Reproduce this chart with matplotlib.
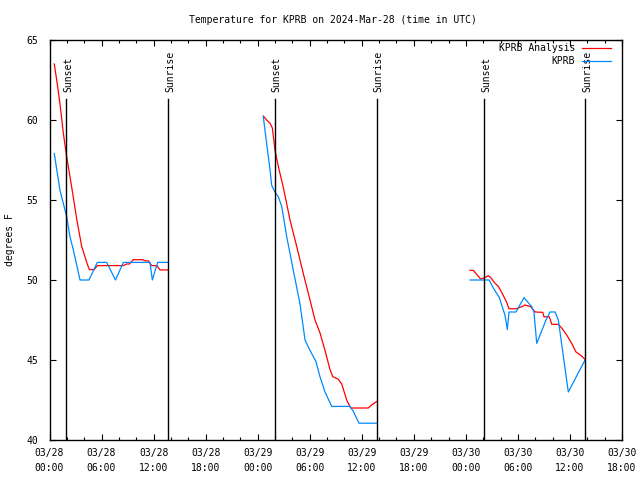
import matplotlib
matplotlib.use("Agg")
import matplotlib.pyplot as plt
import numpy as np
from matplotlib.ticker import MultipleLocator, FixedLocator

plt.rcParams['font.family'] = ['DejaVu Sans Mono']
FS = 7

# hours since 2024-03-28 00:00 UTC
analysis_t = [
    [0.55, 0.83, 1.21, 1.59, 1.98, 2.56, 3.14, 3.71, 4.29, 4.59, 5.16, 5.51, 8.51, 8.88, 9.20,
     9.66, 10.74, 11.01, 11.39, 11.78, 12.36, 12.74, 13.70],
    [24.65, 25.04, 25.42, 25.69, 26.00, 26.38, 26.95, 27.73, 28.50, 29.26, 30.03, 30.61, 31.18,
     31.76, 32.34, 32.65, 33.29, 33.69, 34.26, 34.72, 36.75, 37.15, 37.72],
    [48.48, 48.86, 49.25, 49.71, 50.21, 50.59, 50.86, 51.36, 51.74, 52.13, 52.71, 52.97, 53.78,
     54.44, 54.82, 55.48, 55.97, 56.86, 57.01, 57.62, 57.90, 58.66, 59.05, 59.63, 60.20, 60.70,
     61.24, 61.74],
]
analysis_v = [
    [63.5, 62.5, 61.0, 59.2, 57.7, 55.8, 53.8, 52.1, 51.1, 50.65, 50.65, 50.9, 50.9, 51.0, 51.0,
     51.27, 51.27, 51.2, 51.2, 50.9, 50.9, 50.63, 50.63],
    [60.25, 60.0, 59.8, 59.5, 58.1, 57.1, 55.8, 53.75, 52.1, 50.4, 48.75, 47.5, 46.7, 45.6, 44.4,
     43.96, 43.8, 43.5, 42.5, 42.0, 42.0, 42.2, 42.4],
    [50.6, 50.6, 50.35, 50.06, 50.15, 50.27, 50.15, 49.8, 49.6, 49.23, 48.6, 48.2, 48.2, 48.33,
     48.44, 48.33, 48.0, 47.98, 47.7, 47.7, 47.23, 47.23, 47.0, 46.56, 46.04, 45.5, 45.3, 45.04],
]
obs_t = [
    [0.55, 1.21, 1.98, 2.36, 2.74, 3.52, 4.55, 5.51, 6.59, 7.61, 8.51, 11.59, 11.85, 12.47, 13.70],
    [24.65, 25.04, 25.42, 25.62, 26.00, 26.38, 26.77, 27.35, 28.11, 28.88, 29.46, 30.03, 30.72,
     31.18, 31.76, 32.53, 34.64, 35.02, 35.68, 37.72],
    [48.48, 50.70, 51.16, 51.86, 52.51, 52.78, 52.97, 53.78, 54.70, 55.59, 55.85, 56.17, 57.24,
     57.70, 58.28, 58.66, 59.81, 61.74],
]
obs_v = [
    [57.9, 55.6, 53.96, 52.7, 51.9, 50.0, 50.0, 51.1, 51.1, 50.0, 51.1, 51.1, 50.0, 51.1, 51.1],
    [60.2, 58.5, 56.9, 55.9, 55.5, 55.2, 54.6, 52.7, 50.6, 48.5, 46.25, 45.6, 44.9, 43.96, 43.0,
     42.1, 42.1, 41.8, 41.05, 41.05],
    [50.0, 50.0, 49.5, 48.9, 47.8, 46.9, 48.0, 48.0, 48.9, 48.33, 48.0, 46.04, 47.5, 48.0, 48.0,
     47.5, 43.0, 45.0],
]

sunset_t = [1.94, 26.00, 50.13]
sunrise_t = [13.70, 37.72, 61.77]

xtick_hours = [0, 6, 12, 18, 24, 30, 36, 42, 48, 54, 60, 66]
xtick_labels = ["03/28\n00:00", "03/28\n06:00", "03/28\n12:00", "03/28\n18:00",
                "03/29\n00:00", "03/29\n06:00", "03/29\n12:00", "03/29\n18:00",
                "03/30\n00:00", "03/30\n06:00", "03/30\n12:00", "03/30\n18:00"]
yticks = [40, 45, 50, 55, 60, 65]

RED = '#ff0000'
BLUE = '#0088ff'

def join(parts):
    out = []
    for i, p in enumerate(parts):
        if i:
            out.append(np.nan)
        out.extend(p)
    return np.array(out, dtype=float)

W, H = 640, 480
fig = plt.figure(figsize=(6.4, 4.8), dpi=100)
L, R, T, B = 49.5, 622, 40, 440
ax = fig.add_axes([L / W, (H - B) / H, (R - L) / W, (B - T) / H])

ax.plot(join(analysis_t), join(analysis_v), color=RED, lw=0.9, label='KPRB Analysis')
ax.plot(join(obs_t), join(obs_v), color=BLUE, lw=0.9, label='KPRB')

line_top = 61.3
text_bottom = 61.75
for name, times in (("Sunset", sunset_t), ("Sunrise", sunrise_t)):
    for t in times:
        ax.plot([t, t], [40, line_top], color='black', lw=1.0)
        ax.annotate(name, xy=(t, text_bottom), xytext=(1.2, 0), textcoords='offset points',
                    rotation=90, ha='center', va='bottom', fontsize=FS)

ax.set_xlim(0, 66)
ax.set_ylim(40, 65)
ax.xaxis.set_major_locator(FixedLocator(xtick_hours))
ax.set_xticklabels(xtick_labels, fontsize=FS, linespacing=1.6)
ax.xaxis.set_minor_locator(MultipleLocator(2))
ax.set_yticks(yticks)
ax.set_yticklabels([str(v) for v in yticks], fontsize=FS)
ax.tick_params(which='both', direction='in', top=True, right=True, width=0.8)
ax.tick_params(which='major', length=4.5)
ax.tick_params(which='minor', length=2.5)
ax.tick_params(axis='x', pad=6)
ax.tick_params(axis='y', pad=8)
for s in ax.spines.values():
    s.set_linewidth(1.0)

fig.text(333 / W, 1 - 20 / H, "Temperature for KPRB on 2024-Mar-28 (time in UTC)",
         ha='center', va='center', fontsize=FS)
fig.text(10 / W, 1 - 240 / H, "degrees F", rotation=90, ha='center', va='center', fontsize=FS)

leg = ax.legend(loc='upper right', bbox_to_anchor=(611 / W, 1 - 43 / H),
                bbox_transform=fig.transFigure, frameon=False, markerfirst=False,
                fontsize=FS, handlelength=3.0, handletextpad=0.7, labelspacing=0.35,
                borderpad=0, borderaxespad=0)

fig.savefig("out.png", dpi=100)
